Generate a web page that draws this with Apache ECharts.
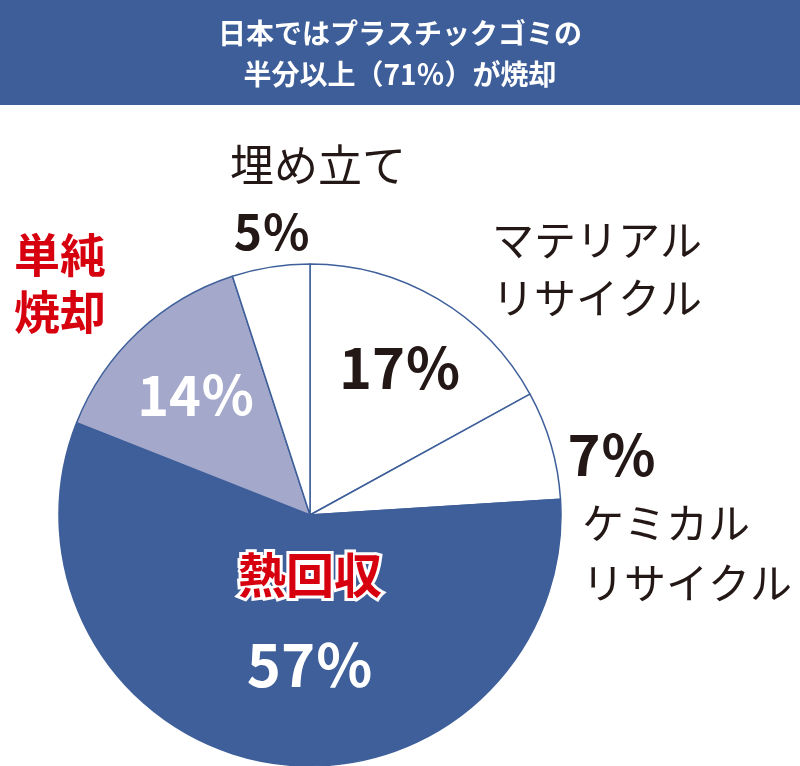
<!DOCTYPE html>
<html><head><meta charset="utf-8">
<script src="https://cdn.jsdelivr.net/npm/echarts@6/dist/echarts.min.js"></script>
<style>html,body{margin:0;padding:0;background:#fff}#main{width:800px;height:766px}</style>
</head><body><div id="main"></div>
<script>
const names = ['マテリアルリサイクル', 'ケミカルリサイクル', '熱回収', '単純焼却', '埋め立て'];
const values = [17, 7, 57, 14, 5];
const colors = ['#ffffff', '#ffffff', '#3e5f9a', '#a4a9cc', '#ffffff'];
const titleLines = ['日本ではプラスチックゴミの', '半分以上（71％）が焼却'];

const font = '"Noto Sans CJK JP", "Noto Sans", sans-serif';
const chart = echarts.init(document.getElementById('main'));

function txt(x, y, text, size, color, weight, align) {
  return { type: 'text', z: 100, x: x, y: y, style: { text: text, fontSize: size, fill: color,
    fontWeight: weight || 'normal', fontFamily: font, textAlign: align || 'center',
    textVerticalAlign: 'middle' } };
}

chart.setOption({
  animation: false,
  graphic: [
    { type: 'rect', shape: { x: 0, y: 0, width: 800, height: 105 }, style: { fill: '#3d5e99' } },
    txt(400, 33, titleLines[0], 28, '#fff', 'bold'),
    txt(400, 74, titleLines[1], 28, '#fff', 'bold'),
    txt(318, 165, '埋め立て', 44, '#231815'),
    txt(272, 232, '5％', 48, '#231815', 'bold'),
    txt(492, 240, 'マテリアル', 42, '#231815', 'normal', 'left'),
    txt(492, 298, 'リサイクル', 42, '#231815', 'normal', 'left'),
    txt(400, 368, '17％', 56, '#231815', 'bold'),
    txt(612, 455, '7％', 56, '#231815', 'bold'),
    txt(582, 523, 'ケミカル', 42, '#231815', 'normal', 'left'),
    txt(582, 583, 'リサイクル', 42, '#231815', 'normal', 'left'),
    txt(60, 255, '単純', 46, '#d7000f', 'bold'),
    txt(60, 312, '焼却', 46, '#d7000f', 'bold'),
    txt(196, 395, '14％', 54, '#fff', 'bold'),
    { type: 'text', z: 100, x: 310, y: 575, style: { text: '熱回収', fontSize: 48, fill: '#d7000f', fontWeight: 'bold',
      fontFamily: font, textAlign: 'center', textVerticalAlign: 'middle', stroke: '#fff', lineWidth: 6 } },
    txt(310, 665, '57％', 58, '#fff', 'bold')
  ],
  series: [{
    type: 'pie',
    z: 1,
    center: [310, 515],
    radius: [0, 251],
    startAngle: 90,
    clockwise: true,
    label: { show: false },
    labelLine: { show: false },
    silent: true,
    itemStyle: { borderColor: '#3e5f9a', borderWidth: 1.5 },
    data: names.map((n, i) => ({ name: n, value: values[i], itemStyle: { color: colors[i] } }))
  }]
});
</script></body></html>
